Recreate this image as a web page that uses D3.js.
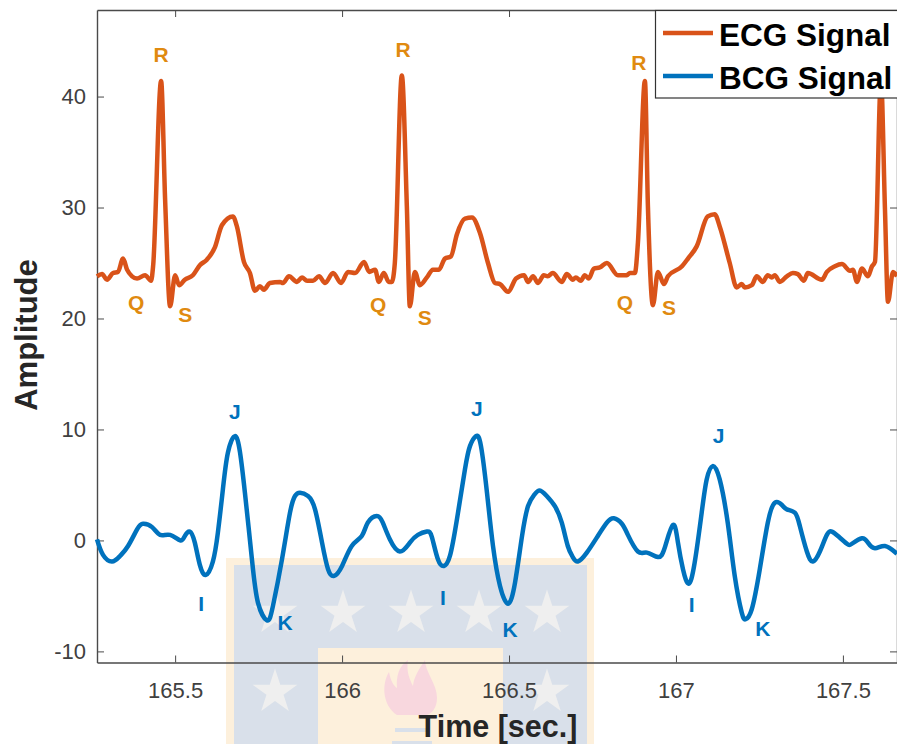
<!DOCTYPE html>
<html><head><meta charset="utf-8">
<script src="https://cdn.jsdelivr.net/npm/d3@7"></script>
<style>html,body{margin:0;padding:0;background:#fff}svg{display:block}text{font-family:"Liberation Sans",Arial,sans-serif}</style>
</head><body><svg id="c" width="897" height="744"></svg>
<script>
const ecgTime=[165.266,165.281,165.296,165.314,165.329,165.344,165.356,165.371,165.386,165.410,165.428,165.434,165.458,165.470,165.485,165.500,165.512,165.529,165.553,165.574,165.595,165.619,165.640,165.673,165.685,165.706,165.724,165.739,165.754,165.766,165.784,165.814,165.823,165.841,165.865,165.880,165.895,165.913,165.931,165.949,165.973,165.997,166.018,166.039,166.066,166.081,166.099,166.110,166.125,166.140,166.149,166.158,166.179,166.194,166.203,166.218,166.233,166.254,166.272,166.290,166.308,166.326,166.344,166.368,166.389,166.413,166.437,166.458,166.473,166.497,166.521,166.545,166.557,166.572,166.587,166.604,166.616,166.631,166.658,166.673,166.691,166.700,166.715,166.727,166.739,166.754,166.772,166.793,166.826,166.853,166.862,166.877,166.886,166.907,166.916,166.931,166.946,166.964,166.976,167.018,167.036,167.062,167.095,167.116,167.131,167.161,167.182,167.197,167.206,167.227,167.242,167.260,167.275,167.287,167.296,167.311,167.332,167.350,167.365,167.383,167.395,167.437,167.452,167.476,167.497,167.521,167.530,167.542,167.557,167.575,167.587,167.596,167.614,167.626,167.635,167.650,167.662];
const ecgValue=[23.8,24.0,23.5,24.1,24.2,25.4,24.4,23.8,23.6,23.9,23.4,24.7,41.4,30.7,21.1,23.9,23.0,23.5,23.9,24.8,25.3,26.4,28.4,29.2,28.3,25.1,24.1,22.5,22.9,22.6,23.2,23.3,23.2,23.8,23.3,23.7,23.4,23.4,23.8,23.2,24.1,23.2,24.2,24.1,25.1,24.2,24.4,23.3,24.1,23.3,23.3,25.0,41.9,30.1,21.1,24.2,23.0,23.7,24.4,24.4,25.4,25.6,27.6,29.0,29.1,27.7,25.0,23.2,23.1,22.4,23.6,23.9,23.3,23.8,23.2,23.9,23.8,24.1,23.3,24.0,23.5,23.7,23.4,23.9,23.6,24.5,24.6,25.0,23.9,23.9,24.1,24.1,26.8,41.4,30.1,21.2,24.2,23.1,23.8,24.7,25.4,26.5,29.2,29.4,28.3,25.0,22.8,23.1,22.8,23.0,23.8,23.3,23.9,23.7,23.9,23.3,23.8,24.1,24.0,23.4,24.1,23.5,24.2,24.7,24.9,24.3,24.4,23.3,24.5,23.8,24.7,25.1,41.5,29.8,21.5,24.2,23.8];
const bcgTime=[165.266,165.284,165.311,165.335,165.359,165.386,165.404,165.431,165.455,165.485,165.515,165.529,165.544,165.559,165.574,165.592,165.613,165.628,165.643,165.658,165.679,165.694,165.709,165.730,165.748,165.775,165.793,165.820,165.844,165.859,165.874,165.898,165.919,165.940,165.958,165.976,166.000,166.029,166.059,166.077,166.104,166.122,166.143,166.173,166.203,166.227,166.254,166.269,166.287,166.305,166.323,166.344,166.368,166.383,166.401,166.416,166.434,166.452,166.473,166.497,166.518,166.539,166.557,166.575,166.592,166.613,166.637,166.658,166.676,166.691,166.706,166.733,166.766,166.793,166.814,166.838,166.856,166.886,166.913,166.946,166.967,166.991,167.006,167.021,167.038,167.056,167.077,167.092,167.110,167.131,167.155,167.176,167.197,167.209,167.227,167.251,167.275,167.296,167.317,167.332,167.356,167.371,167.392,167.410,167.431,167.452,167.467,167.485,167.512,167.527,167.557,167.575,167.596,167.626,167.662];
const bcgValue=[0.1,-1.3,-1.9,-1.4,-0.5,1.0,1.5,1.2,0.5,0.5,0.0,0.4,0.8,-0.2,-2.2,-3.1,-1.9,0.7,4.6,7.9,9.4,8.0,4.3,-1.7,-5.6,-7.2,-5.9,-1.7,2.5,4.0,4.3,4.0,2.8,-0.2,-2.6,-3.2,-2.3,-0.5,0.4,1.6,2.2,1.6,0.1,-1.0,-0.2,0.5,0.8,0.3,-1.7,-2.3,-1.4,1.9,6.4,8.5,9.4,8.5,4.3,-0.5,-4.1,-5.7,-3.8,0.4,3.1,4.1,4.5,4.0,3.1,1.6,-0.5,-1.5,-1.9,-1.1,0.4,1.6,2.0,1.5,0.5,-1.0,-1.1,-1.5,-0.6,1.4,-0.2,-2.6,-3.9,-2.0,2.5,5.5,6.7,5.5,1.6,-3.2,-6.5,-7.1,-6.2,-2.6,1.6,3.4,3.2,2.8,2.5,1.3,-1.0,-1.9,-1.0,0.5,0.8,0.4,-0.3,-0.3,0.2,-0.2,-0.7,-0.5,-1.2];
const xTicks=[165.5,166,166.5,167,167.5];
const yTicks=[-10,0,10,20,30,40];
const seriesNames=["ECG Signal","BCG Signal"];
const ecgMarks=["R","R","R","Q","Q","Q","S","S","S"];
const ecgMarkTime=[165.458,166.183,166.889,165.383,166.108,166.847,165.530,166.248,166.979];
const ecgMarkValue=[43.8,44.2,43.1,21.4,21.3,21.4,20.4,20.1,21.0];
const bcgMarks=["J","J","J","I","I","I","K","K","K"];
const bcgMarkTime=[165.679,166.404,167.128,165.578,166.302,167.047,165.829,166.503,167.260];
const bcgMarkValue=[11.6,11.9,9.5,-5.7,-5.1,-5.8,-7.4,-8.0,-7.9];

const plotL=97,plotR=897,plotT=10,plotB=662.5;
const x=d3.scaleLinear().domain([165.266,167.662]).range([plotL,plotR]);
const y=d3.scaleLinear().domain([-11,47.8]).range([plotB,plotT]);
const svg=d3.select("#c");

// faint watermark behind the plot
const wm=svg.append("g");
wm.append("rect").attr("x",226).attr("y",558).attr("width",368).attr("height",186).attr("fill","#FDF0DC");
wm.append("rect").attr("x",234).attr("y",565).attr("width",353).attr("height",179).attr("fill","#D9E0EA");
wm.append("rect").attr("x",318).attr("y",648).attr("width",185).attr("height",96).attr("fill","#FDF0DC");
const star=d3.symbol().type(d3.symbolStar).size(620);
[[275,613],[343,613],[411,613],[479,613],[547,613],[275,692],[547,692]].forEach(p=>
  wm.append("path").attr("d",star()).attr("transform",`translate(${p[0]},${p[1]})`).attr("fill","#EFEFEF"));
wm.append("path").attr("d","M397 715C383 706 381 685 389 672C391 682 394 686 397 688C396 676 399 666 408 660C406 672 410 680 413 686C414 676 420 668 425 660C425 672 437 684 437 698C437 708 432 713 427 715Z").attr("fill","#F8D7DE");
wm.append("rect").attr("x",395).attr("y",728).attr("width",32).attr("height",4).attr("fill","#D9E0EA");
wm.append("rect").attr("x",392).attr("y",741).attr("width",40).attr("height",3).attr("fill","#D9E0EA");

// axes
const axC="#4a4a4a", txC="#404040";
const gx=svg.append("g").attr("transform",`translate(0,${plotB})`).call(d3.axisBottom(x).tickValues(xTicks).tickFormat(d=>String(d)).tickSizeInner(-7).tickSizeOuter(0).tickPadding(20));
const gy=svg.append("g").attr("transform",`translate(${plotL},0)`).call(d3.axisLeft(y).tickValues(yTicks).tickFormat(d=>String(d)).tickSizeInner(-7).tickSizeOuter(0).tickPadding(11));
const gyR=svg.append("g").attr("transform",`translate(${plotR},0)`).call(d3.axisRight(y).tickValues(yTicks).tickFormat("").tickSizeInner(-7).tickSizeOuter(0));
const gxT=svg.append("g").attr("transform",`translate(0,${plotT})`).call(d3.axisTop(x).tickValues(xTicks).tickFormat("").tickSizeInner(-7).tickSizeOuter(0));
[gx,gy,gyR,gxT].forEach(g=>{g.selectAll("path").attr("stroke",axC).attr("stroke-width",1.4);
  g.selectAll("line").attr("stroke",axC).attr("stroke-width",1);
  g.selectAll("text").attr("fill",txC).style("font-size","22px").style("font-family",'"Liberation Sans",Arial,sans-serif');});

// signals
const ecgLine=d3.line().x(d=>x(d[0])).y(d=>y(d[1])).curve(d3.curveMonotoneX);
const bcgLine=d3.line().x(d=>x(d[0])).y(d=>y(d[1])).curve(d3.curveNatural);
const ecgColor="#D95319",bcgColor="#0072BD",ecgLabelColor="#E08A10";
svg.append("path").attr("d",ecgLine(ecgTime.map((t,i)=>[t,ecgValue[i]]))).attr("fill","none").attr("stroke",ecgColor).attr("stroke-width",4.5).attr("stroke-linejoin","round");
svg.append("path").attr("d",bcgLine(bcgTime.map((t,i)=>[t,bcgValue[i]]))).attr("fill","none").attr("stroke",bcgColor).attr("stroke-width",4.5).attr("stroke-linejoin","round");

// feature labels
const lab=(n,t,v,c)=>svg.append("g").selectAll("text").data(n).join("text").text(d=>d)
  .attr("x",(d,i)=>x(t[i])).attr("y",(d,i)=>y(v[i])).attr("text-anchor","middle").attr("dominant-baseline","central")
  .attr("font-weight","bold").attr("font-size",21).attr("fill",c);
lab(ecgMarks,ecgMarkTime,ecgMarkValue,ecgLabelColor);
lab(bcgMarks,bcgMarkTime,bcgMarkValue,bcgColor);

// axis titles
svg.append("text").text("Time [sec.]").attr("x",498).attr("y",736.5).attr("text-anchor","middle").attr("font-weight","bold").attr("font-size",30.5).attr("fill","#262626");
svg.append("text").text("Amplitude").attr("transform","translate(37,335) rotate(-90)").attr("text-anchor","middle").attr("font-weight","bold").attr("font-size",31).attr("fill","#262626");

// legend
const lg=svg.append("g");
lg.append("rect").attr("x",655.5).attr("y",10.5).attr("width",245).attr("height",87.5).attr("fill","#fff").attr("stroke","#333").attr("stroke-width",1.2);
seriesNames.forEach((n,i)=>{const yy=33+i*43;
  lg.append("line").attr("x1",663).attr("x2",713).attr("y1",yy).attr("y2",yy).attr("stroke",i?bcgColor:ecgColor).attr("stroke-width",4.5);
  lg.append("text").text(n).attr("x",719).attr("y",yy+13).attr("font-weight","bold").attr("font-size",31.5).attr("fill","#000");});
</script></body></html>
